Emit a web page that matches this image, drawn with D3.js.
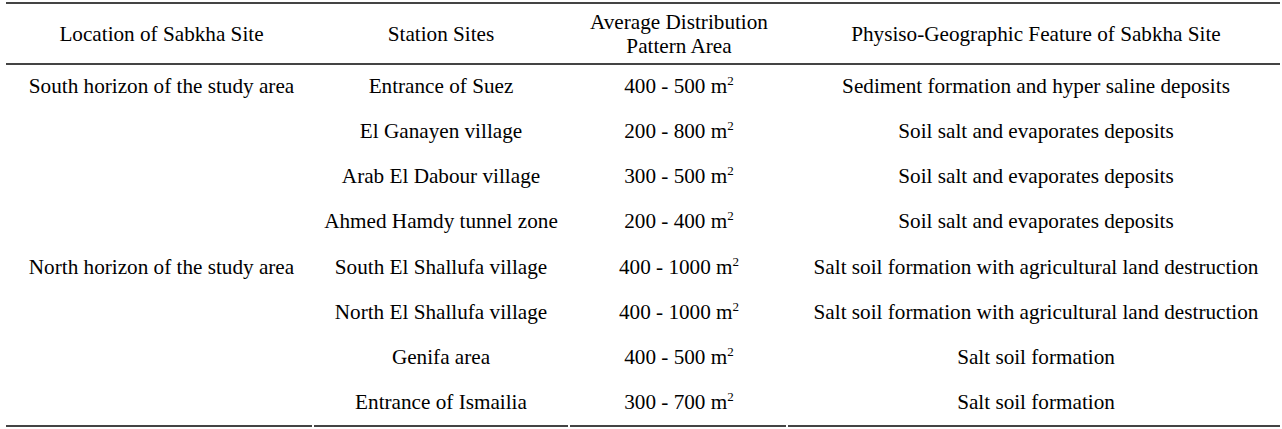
<!DOCTYPE html>
<html>
<head>
<meta charset="utf-8">
<script src="https://cdn.jsdelivr.net/npm/d3@7"></script>
<style>
  body { margin: 0; background: #fff; }
  text { font-family: "Liberation Serif", "Times New Roman", serif; fill: #000; }
</style>
</head>
<body>
<div id="chart"></div>
<script>
const width = 1282, height = 429;

// table content
const headers = [["Location of Sabkha Site"], ["Station Sites"], ["Average Distribution", "Pattern Area"], ["Physiso-Geographic Feature of Sabkha Site"]];
const locations = ["South horizon of the study area", "", "", "", "North horizon of the study area", "", "", ""];
const stations = ["Entrance of Suez", "El Ganayen village", "Arab El Dabour village", "Ahmed Hamdy tunnel zone",
  "South El Shallufa village", "North El Shallufa village", "Genifa area", "Entrance of Ismailia"];
const areaMin = [400, 200, 300, 200, 400, 400, 400, 300];
const areaMax = [500, 800, 500, 400, 1000, 1000, 500, 700];
const features = ["Sediment formation and hyper saline deposits", "Soil salt and evaporates deposits",
  "Soil salt and evaporates deposits", "Soil salt and evaporates deposits",
  "Salt soil formation with agricultural land destruction", "Salt soil formation with agricultural land destruction",
  "Salt soil formation", "Salt soil formation"];

const colEdges = [6, 313, 569, 787, 1280];
const colShift = [2, 0, 1, 2.5];   // text centres sit a touch right of cell middle
const topY = 3, headY = 64, bottomY = 426;

const svg = d3.select("#chart")
  .append("svg")
  .attr("width", width)
  .attr("height", height);

const colCenter = i => (colEdges[i] + colEdges[i + 1]) / 2 + colShift[i];

const y = d3.scaleBand()
  .domain(d3.range(stations.length))
  .range([headY, bottomY]);

const lineColor = "#444";

// rules
svg.append("line").attr("x1", colEdges[0]).attr("x2", colEdges[4])
  .attr("y1", topY).attr("y2", topY).attr("stroke", lineColor).attr("stroke-width", 2);
svg.append("line").attr("x1", colEdges[0]).attr("x2", colEdges[4])
  .attr("y1", headY).attr("y2", headY).attr("stroke", lineColor).attr("stroke-width", 2);
svg.selectAll(".bottom")
  .data(d3.range(4))
  .join("line")
  .attr("x1", i => colEdges[i] + (i ? 1 : 0))
  .attr("x2", i => colEdges[i + 1] - (i < 3 ? 1 : 0))
  .attr("y1", bottomY).attr("y2", bottomY)
  .attr("stroke", lineColor).attr("stroke-width", 2);

// header
const headMid = (topY + headY) / 2;
headers.forEach((lines, i) => {
  const t = svg.append("text")
    .attr("x", colCenter(i))
    .attr("text-anchor", "middle")
    .attr("font-size", 21.2);
  lines.forEach((s, k) => {
    t.append("tspan")
      .attr("x", colCenter(i))
      .attr("y", headMid + 7.5 - (lines.length - 1) * 12 + k * 24)
      .text(s);
  });
});

const rowText = (arr, col) => {
  svg.append("g").selectAll("text")
    .data(arr)
    .join("text")
    .attr("x", colCenter(col))
    .attr("y", (d, i) => y(i) + y.bandwidth() / 2 + 6)
    .attr("text-anchor", "middle")
    .attr("font-size", 21.2)
    .text(d => d);
};

rowText(locations, 0);
rowText(stations, 1);
rowText(features, 3);

// area column with superscript
const areas = svg.append("g").selectAll("text")
  .data(areaMin.map((d, i) => [d, areaMax[i]]))
  .join("text")
  .attr("x", colCenter(2))
  .attr("y", (d, i) => y(i) + y.bandwidth() / 2 + 6)
  .attr("text-anchor", "middle")
  .attr("font-size", 21.2);
areas.append("tspan").text(d => `${d[0]} - ${d[1]} m`);
areas.append("tspan").attr("font-size", 13).attr("dy", -8).text("2");
</script>
</body>
</html>
